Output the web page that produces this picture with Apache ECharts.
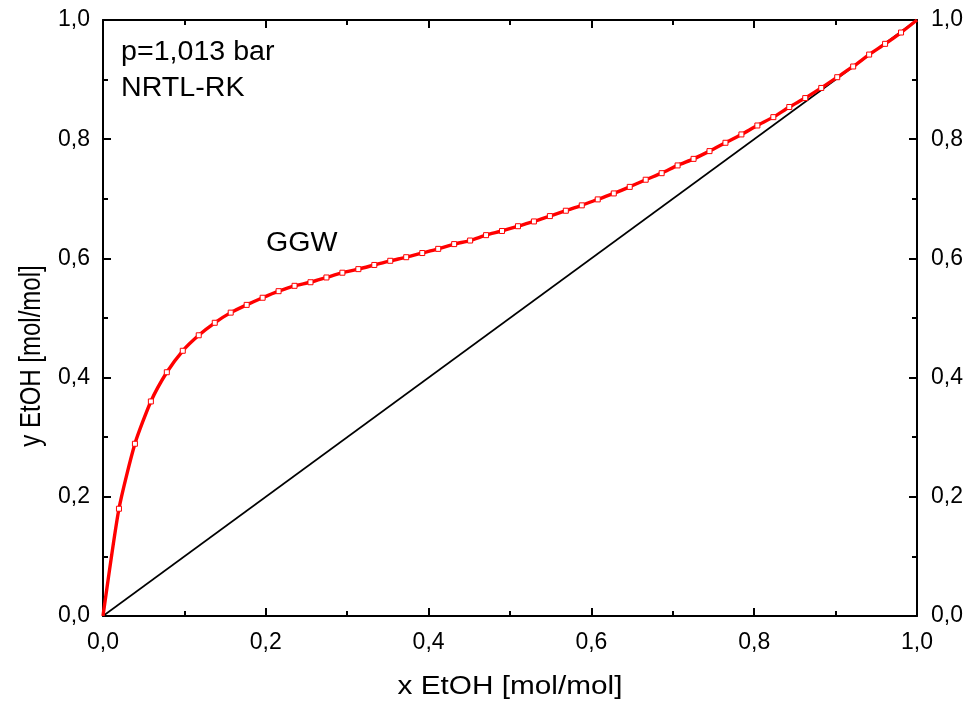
<!DOCTYPE html>
<html>
<head>
<meta charset="utf-8">
<script src="https://cdn.jsdelivr.net/npm/echarts@6/dist/echarts.min.js"></script>
<style>
html,body{margin:0;padding:0;background:#fff;}
#chart{width:970px;height:706px;}
</style>
</head>
<body>
<div id="chart"></div>
<script>
// Data (x = k/51 grid, y)
const xValues = [0, 0.0196, 0.0392, 0.0588, 0.0784, 0.0980, 0.1176, 0.1373, 0.1569, 0.1765, 0.1961,
  0.2157, 0.2353, 0.2549, 0.2745, 0.2941, 0.3137, 0.3333, 0.3529, 0.3725, 0.3922,
  0.4118, 0.4314, 0.4510, 0.4706, 0.4902, 0.5098, 0.5294, 0.5490, 0.5686, 0.5882,
  0.6078, 0.6275, 0.6471, 0.6667, 0.6863, 0.7059, 0.7255, 0.7451, 0.7647, 0.7843,
  0.8039, 0.8235, 0.8431, 0.8627, 0.8824, 0.9020, 0.9216, 0.9412, 0.9608, 0.9804, 1.0];
const yValues = [0, 0.180, 0.289, 0.360, 0.409, 0.445, 0.471, 0.492, 0.509, 0.522, 0.534,
  0.545, 0.554, 0.560, 0.568, 0.576, 0.582, 0.589, 0.596, 0.602, 0.609,
  0.616, 0.624, 0.630, 0.639, 0.646, 0.654, 0.662, 0.671, 0.680, 0.689,
  0.699, 0.709, 0.720, 0.732, 0.743, 0.756, 0.767, 0.780, 0.794, 0.808,
  0.823, 0.837, 0.854, 0.869, 0.886, 0.904, 0.922, 0.942, 0.960, 0.979, 1.0];
const diagonalX = [0, 1];
const diagonalY = [0, 1];
const tickValues = [0, 0.2, 0.4, 0.6, 0.8, 1.0];
const seriesName = 'GGW';
const annotation1 = 'p=1,013 bar';
const annotation2 = 'NRTL-RK';
const xTitle = 'x EtOH [mol/mol]';
const yTitle = 'y EtOH [mol/mol]';

const fmt = v => tickValues.some(t => Math.abs(t - v) < 1e-9) ? v.toFixed(1).replace('.', ',') : '';
const curve = xValues.map((x, i) => {
  const item = { value: [x, yValues[i]] };
  if (i === 0 || i === xValues.length - 1) item.symbol = 'none';
  return item;
});
const diag = diagonalX.map((x, i) => [x, diagonalY[i]]);

const FONT = '"Liberation Sans", Arial, sans-serif';
const axisCommon = {
  min: 0, max: 1, interval: 0.2,
  axisLine: { show: true, onZero: false, lineStyle: { color: '#000', width: 2 } },
  axisTick: { show: true, inside: true, length: 8, lineStyle: { color: '#000', width: 2 } },
  minorTick: { show: true, splitNumber: 2, length: 5, lineStyle: { color: '#000', width: 2 } },
  splitLine: { show: false },
  axisLabel: { show: true, color: '#000', fontSize: 23, fontFamily: FONT, formatter: fmt }
};

const chart = echarts.init(document.getElementById('chart'), null, { renderer: 'canvas' });
chart.setOption({
  animation: false,
  backgroundColor: '#fff',
  grid: { left: 103, right: 53, top: 20, bottom: 90, containLabel: false },
  xAxis: [
    Object.assign({}, axisCommon, {
      type: 'value', position: 'bottom',
      axisLabel: Object.assign({}, axisCommon.axisLabel, { margin: 15 })
    }),
    Object.assign({}, axisCommon, {
      type: 'value', position: 'top',
      axisLabel: { show: false }
    })
  ],
  yAxis: [
    Object.assign({}, axisCommon, {
      type: 'value', position: 'left',
      axisLabel: Object.assign({}, axisCommon.axisLabel, { margin: 13 })
    }),
    Object.assign({}, axisCommon, {
      type: 'value', position: 'right',
      axisLabel: Object.assign({}, axisCommon.axisLabel, { margin: 14 })
    })
  ],
  series: [
    {
      type: 'line', name: 'diagonal', data: diag,
      xAxisIndex: 0, yAxisIndex: 0,
      showSymbol: false, symbol: 'none',
      lineStyle: { color: '#000', width: 1.6 },
      silent: true
    },
    {
      type: 'line', name: seriesName, data: curve,
      xAxisIndex: 0, yAxisIndex: 0,
      symbol: 'rect', symbolSize: 5, showAllSymbol: true,
      lineStyle: { color: '#ff0000', width: 3.4 },
      itemStyle: { color: '#fff', borderColor: '#ff0000', borderWidth: 1 },
      smooth: 0.2,
      z: 3
    }
  ],
  graphic: [
    { type: 'text', x: 121, y: 53, scaleX: 1.06,
      style: { text: annotation1, font: '27px ' + FONT, fill: '#000', textAlign: 'left', textVerticalAlign: 'middle' } },
    { type: 'text', x: 121, y: 89, scaleX: 1.06,
      style: { text: annotation2, font: '27px ' + FONT, fill: '#000', textAlign: 'left', textVerticalAlign: 'middle' } },
    { type: 'text', x: 266, y: 244, scaleX: 1.06,
      style: { text: seriesName, font: '27px ' + FONT, fill: '#000', textAlign: 'left', textVerticalAlign: 'middle' } },
    { type: 'text', x: 510, y: 687, scaleX: 1.19,
      style: { text: xTitle, font: '25px ' + FONT, fill: '#000', textAlign: 'center', textVerticalAlign: 'middle' } },
    { type: 'text', x: 32, y: 356, rotation: Math.PI / 2, scaleY: 1.2,
      style: { text: yTitle, font: '24px ' + FONT, fill: '#000', textAlign: 'center', textVerticalAlign: 'middle' } }
  ]
});
</script>
</body>
</html>
